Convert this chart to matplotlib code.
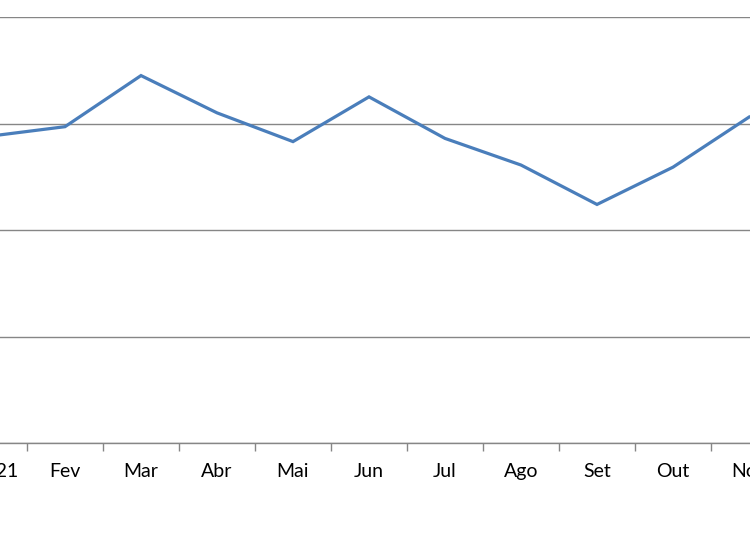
import numpy as np
import matplotlib
matplotlib.use('Agg')
import matplotlib.pyplot as plt

# monthly values (visible part of the chart), y gridlines at 0..4
months = ['Jan/21', 'Fev', 'Mar', 'Abr', 'Mai', 'Jun', 'Jul', 'Ago', 'Set', 'Out', 'Nov']
values = [2.88, 2.97, 3.45, 3.10, 2.83, 3.25, 2.86, 2.61, 2.24, 2.59, 3.06]
y_ticks = [0, 1, 2, 3, 4]

plt.rcParams['font.family'] = ['Lato', 'DejaVu Sans']

fig = plt.figure(figsize=(7.5, 5.36), dpi=100)
# plot area runs past the figure edges (reference is a crop)
ax = fig.add_axes([-49 / 750, 93 / 536, 912 / 750, 426 / 536])

x = np.arange(len(months))
ax.plot(x, values, color='#4A7EBB', linewidth=2.3, solid_joinstyle='miter', zorder=3)

ax.set_xlim(-0.5, 11.5)
ax.set_ylim(0, 4)
ax.set_yticks(y_ticks)
ax.yaxis.grid(True, color='#868686', linewidth=1.0, zorder=0)
ax.tick_params(axis='y', left=False, labelleft=False)

ax.set_xticks(x)
ax.set_xticklabels(months, fontsize=14, color='black')
ax.set_xticks(np.arange(-0.5, 12, 1), minor=True)
ax.tick_params(axis='x', which='major', length=0, pad=14.5)
ax.tick_params(axis='x', which='minor', length=6, width=1.0, color='#868686')

for s in ['top', 'left', 'right']:
    ax.spines[s].set_visible(False)
ax.spines['bottom'].set_color('#868686')
ax.spines['bottom'].set_linewidth(1.0)

fig.savefig('out.png', dpi=100)
